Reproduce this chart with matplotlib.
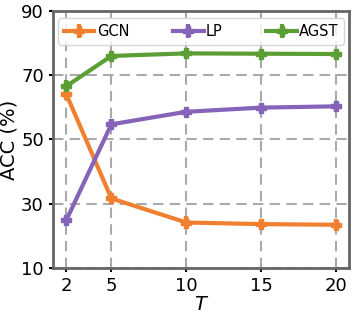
import numpy as np
import matplotlib
matplotlib.use('Agg')
import matplotlib.pyplot as plt

T = [2, 5, 10, 15, 20]
gcn = [64.0, 31.6, 24.1, 23.6, 23.4]
gcn_err = [1.5, 1.5, 2.0, 1.5, 1.8]
lp = [24.9, 54.7, 58.6, 59.9, 60.3]
lp_err = [1.5, 1.5, 1.2, 1.2, 1.8]
agst = [66.6, 76.0, 76.8, 76.7, 76.6]
agst_err = [2.0, 1.0, 0.8, 0.8, 1.0]

fig, ax = plt.subplots(figsize=(3.53, 3.15), dpi=100)

styles = [('GCN', gcn, gcn_err, '#f07f2f'),
          ('LP', lp, lp_err, '#8563b8'),
          ('AGST', agst, agst_err, '#5b9e35')]
for name, y, e, c in styles:
    ax.errorbar(T, y, yerr=e, color=c, marker='P', markersize=7, lw=3,
                elinewidth=3, capsize=0, label=name)

ax.set_xlim(1.1, 20.9)
ax.set_ylim(10, 90)
ax.set_xticks(T)
ax.set_yticks([10, 30, 50, 70, 90])
ax.tick_params(labelsize=13, length=3, width=1.5)
ax.set_xlabel('$T$', fontsize=14, labelpad=0)
ax.set_ylabel('ACC (%)', fontsize=14, labelpad=2)
ax.grid(True, ls='--', color='#aaaaaa', lw=1.5, dashes=(5, 3))
for s in ax.spines.values():
    s.set_color('#666666')
    s.set_linewidth(2)
ax.legend(ncol=3, loc='upper center', fontsize=10.5, handlelength=2.1,
          handletextpad=0.15, columnspacing=3.0, borderaxespad=0.5,
          bbox_to_anchor=(0.5, 1.0))
fig.subplots_adjust(left=0.15, right=0.99, top=0.965, bottom=0.15)
fig.savefig('out.png', dpi=100)
